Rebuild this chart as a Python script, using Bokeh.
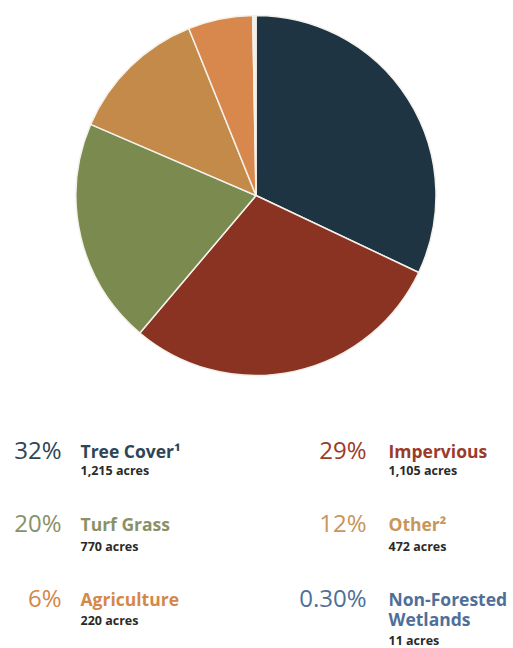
import math
from bokeh.plotting import figure
from bokeh.models import ColumnDataSource
from bokeh.core.properties import value
from bokeh.embed import file_html
from bokeh.resources import INLINE

# ---- data ----
categories = ["Tree Cover", "Impervious", "Turf Grass", "Other", "Agriculture", "Non-Forested Wetlands"]
labels = ["Tree Cover\u00b9", "Impervious", "Turf Grass", "Other\u00b2", "Agriculture", "Non-Forested\nWetlands"]
acres = [1215, 1105, 770, 472, 220, 11]
pct_labels = ["32%", "29%", "20%", "12%", "6%", "0.30%"]
acre_labels = ["1,215 acres", "1,105 acres", "770 acres", "472 acres", "220 acres", "11 acres"]

# ---- styles / layout ----
slice_colors = ["#1f3442", "#8b3322", "#7b8a4e", "#c48a4a", "#d8874d", "#f2efe8"]
text_colors = ["#2e4557", "#9b3b2a", "#8b9166", "#c8955a", "#d4874a", "#4f6f98"]
W, H = 513, 648
cx, cy_top, R = 255.5, 195, 180
pct_x = [61, 366, 61, 366, 61, 366]
lab_x = [80, 388, 80, 388, 80, 388]
row_y = [449, 449, 522, 522, 597, 597]
acre_dy = [21, 21, 24, 24, 23, 43]

total = sum(acres)
starts, ends = [], []
cum = 0.0
for a in acres:
    starts.append(math.pi / 2 - 2 * math.pi * cum / total)
    cum += a
    ends.append(math.pi / 2 - 2 * math.pi * cum / total)

p = figure(width=W, height=H, x_range=(0, W), y_range=(0, H),
           output_backend="svg", toolbar_location=None, min_border=0)
p.axis.visible = False
p.grid.visible = False
p.outline_line_color = None
p.background_fill_color = "white"
p.border_fill_color = "white"

pie = ColumnDataSource(dict(cat=categories, s=starts, e=ends, c=slice_colors,
                            x=[cx] * len(acres), y=[H - cy_top] * len(acres)))
p.wedge(x="x", y="y", radius=R, start_angle="s", end_angle="e", direction="clock",
        fill_color="c", line_color="#f4f1ea", line_width=1.5, source=pie)

txt = ColumnDataSource(dict(
    pct=pct_labels, lab=labels, ac=acre_labels, col=text_colors,
    px=pct_x, lx=lab_x,
    py=[H - y for y in row_y],
    ly=[H - y + 11 for y in row_y],
    ay=[H - y - d for y, d in zip(row_y, acre_dy)],
))
p.text(x="px", y="py", text="pct", text_color="col", text_font=value("Open Sans"),
       text_font_size="24px", text_align="right", text_baseline="middle", source=txt)
p.text(x="lx", y="ly", text="lab", text_color="col", text_font=value("Open Sans"),
       text_font_size="17.5px", text_font_style="bold", text_align="left",
       text_baseline="top", text_line_height=0.85, source=txt)
p.text(x="lx", y="ay", text="ac", text_color="#2a2a2a", text_font=value("Open Sans"),
       text_font_size="12.5px", text_font_style="bold", text_align="left",
       text_baseline="middle", source=txt)

open("out.html", "w").write(file_html(p, INLINE))
